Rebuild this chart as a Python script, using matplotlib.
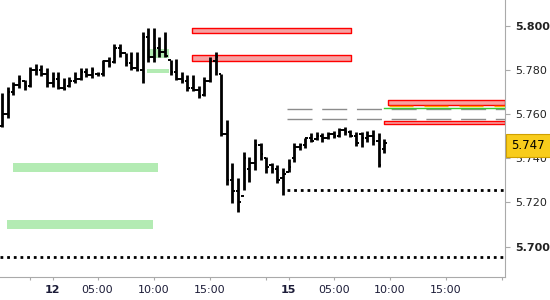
import numpy as np
import matplotlib
matplotlib.use("Agg")
from matplotlib import pyplot as plt
from matplotlib import transforms

# 30 minute OHLC bars, x is the bar number
highs = [5.7695, 5.7723, 5.7745, 5.7777, 5.7754, 5.7813, 5.7827, 5.7822, 5.7809, 5.7790,
         5.7790, 5.7763, 5.7768, 5.7790, 5.7809, 5.7809, 5.7813, 5.7790, 5.7845, 5.7858,
         5.7917, 5.7917, 5.7876, 5.7881, 5.7881, 5.7971, 5.7990, 5.7990, 5.7949, 5.7971,
         5.7845, 5.7849, 5.7790, 5.7777, 5.7777, 5.7727, 5.7768, 5.7858, 5.7881, 5.7781,
         5.7573, 5.7379, 5.7310, 5.7428, 5.7406, 5.7487, 5.7469, 5.7406, 5.7379, 5.7370,
         5.7356, 5.7397, 5.7469, 5.7469, 5.7492, 5.7514, 5.7519, 5.7514, 5.7519, 5.7523,
         5.7537, 5.7542, 5.7528, 5.7519, 5.7519, 5.7523, 5.7528, 5.7514, 5.7487]
lows = [5.7542, 5.7582, 5.7686, 5.7718, 5.7709, 5.7723, 5.7777, 5.7772, 5.7723, 5.7723,
        5.7714, 5.7709, 5.7723, 5.7741, 5.7754, 5.7768, 5.7763, 5.7772, 5.7772, 5.7813,
        5.7831, 5.7858, 5.7818, 5.7800, 5.7795, 5.7741, 5.7836, 5.7836, 5.7858, 5.7858,
        5.7777, 5.7754, 5.7741, 5.7705, 5.7705, 5.7673, 5.7682, 5.7745, 5.7777, 5.7501,
        5.7279, 5.7197, 5.7157, 5.7256, 5.7293, 5.7347, 5.7392, 5.7334, 5.7334, 5.7288,
        5.7234, 5.7338, 5.7383, 5.7437, 5.7447, 5.7474, 5.7483, 5.7474, 5.7487, 5.7492,
        5.7496, 5.7505, 5.7496, 5.7456, 5.7451, 5.7474, 5.7460, 5.7361, 5.7424]
opens = [5.7545, 5.7600, 5.7700, 5.7730, 5.7750, 5.7725, 5.7800, 5.7800, 5.7780, 5.7740,
         5.7760, 5.7720, 5.7725, 5.7750, 5.7760, 5.7790, 5.7775, 5.7780, 5.7780, 5.7840,
         5.7835, 5.7900, 5.7875, 5.7830, 5.7810, 5.7800, 5.7950, 5.7860, 5.7900, 5.7880,
         5.7845, 5.7790, 5.7760, 5.7750, 5.7720, 5.7710, 5.7685, 5.7750, 5.7840, 5.7780,
         5.7510, 5.7300, 5.7250, 5.7230, 5.7350, 5.7380, 5.7460, 5.7400, 5.7370, 5.7350,
         5.7310, 5.7340, 5.7400, 5.7450, 5.7460, 5.7490, 5.7485, 5.7500, 5.7490, 5.7510,
         5.7500, 5.7530, 5.7520, 5.7500, 5.7510, 5.7490, 5.7500, 5.7480, 5.7440]
closes = [5.7600, 5.7700, 5.7730, 5.7760, 5.7725, 5.7800, 5.7800, 5.7780, 5.7740, 5.7760,
          5.7720, 5.7715, 5.7750, 5.7760, 5.7790, 5.7775, 5.7800, 5.7780, 5.7840, 5.7820,
          5.7900, 5.7875, 5.7830, 5.7810, 5.7800, 5.7950, 5.7860, 5.7900, 5.7880, 5.7862,
          5.7790, 5.7760, 5.7750, 5.7720, 5.7710, 5.7680, 5.7750, 5.7840, 5.7860, 5.7510,
          5.7300, 5.7250, 5.7200, 5.7400, 5.7380, 5.7460, 5.7420, 5.7360, 5.7350, 5.7300,
          5.7330, 5.7360, 5.7450, 5.7460, 5.7490, 5.7480, 5.7500, 5.7490, 5.7510, 5.7500,
          5.7530, 5.7520, 5.7500, 5.7470, 5.7490, 5.7500, 5.7480, 5.7370, 5.7470]
last_price = 5.747

# zones: (first bar, last bar, low price, high price)
red_zones = [(33.86, 62.05, 5.7968, 5.7988),
             (33.86, 62.05, 5.7839, 5.7866),
             (68.74, 89.5, 5.7641, 5.7662),
             (67.97, 89.5, 5.7554, 5.7570)]
green_zones = [(1.90, 27.70, 5.7338, 5.7379),
               (0.89, 26.87, 5.7081, 5.7121),
               (25.85, 29.77, 5.7855, 5.7893),
               (25.85, 29.77, 5.7785, 5.7804)]

# levels: (start bar, price)
grey_levels = [(50.66, 5.7622), (50.66, 5.7576)]
orange_level = (68.86, 5.7637)
green_level = (67.97, 5.7626)
dotted_levels = [(50.66, 5.7258), (-0.36, 5.6952)]

y_ticks = [5.700, 5.720, 5.740, 5.760, 5.780, 5.800]
x_ticks = [5, 9, 17, 27, 37, 47, 51, 59, 69, 79, 89]
x_labels = ['', '12', '05:00', '10:00', '15:00', '', '15', '05:00', '10:00', '15:00', '']
x_min, x_max = -0.36, 89.5

plt.rcParams['font.family'] = ['DejaVu Sans']

fig = plt.figure(figsize=(5.5, 3), dpi=100)
ax = fig.add_axes([0, 23 / 300, 505 / 550, 277 / 300])

for x0, x1, lo, hi in green_zones:
    ax.fill_between([x0, x1], lo, hi, color='#b3ebb3', lw=0, zorder=1)
for x0, x1, lo, hi in red_zones:
    ax.fill_between([x0, x1], lo, hi, facecolor='#f6a2a2', edgecolor='#ff0000',
                    lw=1, zorder=2)

for x0, y in grey_levels:
    ax.plot([x0, x_max], [y, y], color='#8c8c8c', lw=1.0, dashes=(18, 7), zorder=2)
ax.plot([orange_level[0], x_max], [orange_level[1]] * 2, color='#ffa500', lw=1.0,
        dashes=(17.3, 7.9), zorder=3)
ax.plot([green_level[0], x_max], [green_level[1]] * 2, color='#33cc33', lw=1.0, zorder=3)
for x0, y in dotted_levels:
    ax.plot([x0, x_max], [y, y], color='black', lw=2.0, dashes=(1, 1.4), zorder=3)

idx = np.arange(len(highs))
ax.vlines(idx, lows, highs, color='black', lw=2.0, zorder=4)
ax.hlines(opens, idx - 0.45, idx, color='black', lw=1.4, zorder=4)
ax.hlines(closes, idx, idx + 0.45, color='black', lw=1.4, zorder=4)

ax.set_xlim(x_min, x_max)
ax.set_ylim(5.6863, 5.8116)

for side in ['top', 'left']:
    ax.spines[side].set_visible(False)
for side in ['right', 'bottom']:
    ax.spines[side].set_color('#aaaaaa')

ax.yaxis.tick_right()
ax.set_yticks(y_ticks)
ax.set_yticklabels(['%.3f' % v for v in y_ticks])
for lab, v in zip(ax.get_yticklabels(), y_ticks):
    if abs(v - 5.7) < 1e-6 or abs(v - 5.8) < 1e-6:
        lab.set_fontweight('bold')
ax.set_xticks(x_ticks)
ax.set_xticklabels(x_labels)
for lab, txt in zip(ax.get_xticklabels(), x_labels):
    if txt in ('12', '15'):
        lab.set_fontweight('bold')
        lab.set_color('black')
ax.tick_params(axis='y', length=3.5, pad=3.5, color='#aaaaaa', labelsize=8,
               labelcolor='#222222')
ax.tick_params(axis='x', length=2.5, pad=3, color='#aaaaaa', labelsize=8,
               labelcolor='#1c1c38')

trans = transforms.blended_transform_factory(ax.transAxes, ax.transData)
ax.text(1.013, last_price - 0.0012, '%.3f' % last_price, transform=trans, ha='left',
        va='center', fontsize=8.5, color='black', zorder=10, clip_on=False,
        bbox=dict(boxstyle='square,pad=0.45', facecolor='#f8cc1c', edgecolor='#d0a000', lw=0.8))

fig.savefig('out.png', dpi=100)
